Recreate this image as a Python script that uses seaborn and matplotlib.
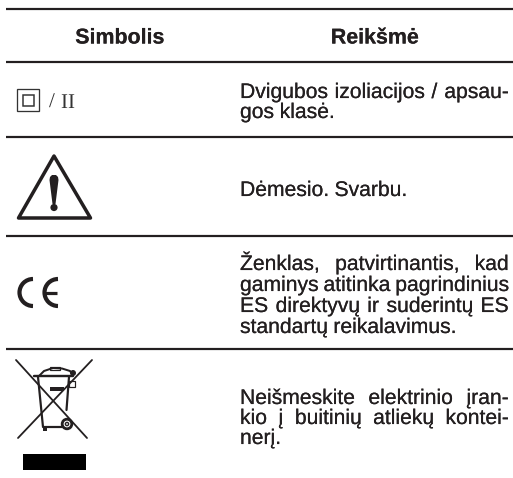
import matplotlib
matplotlib.use("Agg")
import matplotlib.pyplot as plt
import matplotlib.patheffects as pe
import numpy as np
import pandas as pd
import seaborn as sns
from matplotlib.patches import Rectangle, Circle, Arc, Polygon

INK = "#231f20"
headers = ["Simbolis", "Reikšmė"]
header_x = [119, 374]
header_y = 43.5
rule_y = [9, 62, 137, 236, 349]
rule_x = [6, 513]

# (text, baseline, justified)
lines = [
    ("Dvigubos izoliacijos / apsau-", 98, True),
    ("gos klasė.", 118, False),
    ("Dėmesio. Svarbu.", 196, False),
    ("Ženklas, patvirtinantis, kad", 270, True),
    ("gaminys atitinka pagrindinius", 291, True),
    ("ES direktyvų ir suderintų ES", 312, True),
    ("standartų reikalavimus.", 333, False),
    ("Neišmeskite elektrinio įran-", 404, True),
    ("kio į buitinių atliekų kontei-", 424, True),
    ("nerį.", 444, False),
]
text_left, text_right = 240, 508.5
FS = 15.2
FS_HEAD = 15.4

sns.set_theme(style="white")
plt.rcParams["font.family"] = ["Liberation Sans", "DejaVu Sans"]
plt.rcParams["text.hinting"] = "no_hinting"
plt.rcParams["text.hinting_factor"] = 1

fig = plt.figure(figsize=(5.13, 4.78), dpi=100, facecolor="white")
ax = fig.add_axes([0, 0, 1, 1])

rules = pd.DataFrame(
    [{"x": x, "y": y, "rule": i} for i, y in enumerate(rule_y) for x in rule_x]
)
sns.lineplot(data=rules, x="x", y="y", units="rule", estimator=None,
             color=INK, lw=2.2 * 0.72, legend=False, ax=ax, solid_capstyle="butt")
ax.set_xlim(0, 513)
ax.set_ylim(478, 0)
ax.set_axis_off()

stroke = [pe.withStroke(linewidth=0.1, foreground=INK)]

for h, x in zip(headers, header_x):
    ax.text(x, header_y, h, ha="center", va="baseline", fontsize=FS_HEAD,
            fontweight="bold", color=INK, path_effects=stroke)

r = fig.canvas.get_renderer()
def width(s):
    t = ax.text(0, 0, s, fontsize=FS)
    w = t.get_window_extent(r).width
    t.remove()
    return w

space = width("a a") - width("aa")
for s, y, just in lines:
    words = s.split(" ")
    ws = [width(w) for w in words]
    gap = (text_right - text_left - sum(ws)) / (len(words) - 1) if just and len(words) > 1 else space
    x = text_left
    for w, wd in zip(words, ws):
        ax.text(x, y, w, ha="left", va="baseline", fontsize=FS, color=INK, path_effects=stroke)
        x += wd + gap

def px(v):
    return v * 0.72

# class II symbol
ax.add_patch(Rectangle((17, 89), 22, 22, fill=False, ec="#333333", lw=px(1.3)))
ax.add_patch(Rectangle((23, 95), 10.5, 10.5, fill=False, ec="#333333", lw=px(1.5)))
serif = ["Liberation Serif", "DejaVu Serif"]
ax.text(49, 108, "/", family=serif, fontsize=px(21.5), color="#333333", va="baseline")
ax.text(60.5, 108, "I", family=serif, fontsize=px(21.5), color="#333333", va="baseline")
ax.text(67.5, 108, "I", family=serif, fontsize=px(21.5), color="#333333", va="baseline")

# warning triangle
ax.add_patch(Polygon([(54, 156), (18.5, 218), (90.5, 218)], closed=True, fill=False,
                     ec=INK, lw=px(3.5), joinstyle="round"))
ax.add_patch(Polygon([(49.5, 180), (50, 177), (52, 175), (56, 175), (58, 177), (58.5, 180),
                      (55.5, 204), (52.5, 204)], closed=True, fc=INK, ec="none"))
ax.add_patch(Circle((54, 207.5), 3.6, fc=INK, ec="none"))

# CE mark
for cx in (33, 58):
    ax.add_patch(Arc((cx, 292.5), 27, 27, theta1=90, theta2=270, ec=INK, lw=px(4.2)))
ax.plot([45, 57], [292.5, 292.5], color=INK, lw=px(3.2), solid_capstyle="butt")

# crossed-out wheelie bin
for xs, ys in [([16, 87], [360, 438]), ([92, 18], [360, 438])]:
    ax.plot(xs, ys, color=INK, lw=px(1.8))
ax.plot([38, 43, 62], [377, 427, 427], color=INK, lw=px(2.2))
ax.plot([69, 66.5], [377, 410], color=INK, lw=px(2.2))
ax.plot([34, 73], [375.5, 375.5], color=INK, lw=px(2.4))
ax.plot([39, 44, 53, 62, 70, 73], [376, 371, 368, 368.5, 371, 375], color=INK, lw=px(2.0))
ax.add_patch(Rectangle((50, 367), 10, 3, fc="white", ec=INK, lw=px(1.2)))
ax.add_patch(Rectangle((50, 387), 14, 3.5, fc=INK, ec="none"))
ax.add_patch(Rectangle((69, 381), 6, 6, fill=False, ec=INK, lw=px(1.2)))
ax.add_patch(Circle((73, 373), 3, fc=INK, ec="none"))
ax.add_patch(Rectangle((43, 427), 3.5, 4, fc=INK, ec="none"))
ax.add_patch(Circle((67, 424), 4.8, fc="white", ec=INK, lw=px(2.8)))
ax.add_patch(Circle((67, 424), 1.6, fc="white", ec=INK, lw=px(1.4)))
ax.add_patch(Rectangle((23, 454), 63, 16, fc="black", ec="none"))

fig.savefig("out.png", dpi=100, facecolor="white")
